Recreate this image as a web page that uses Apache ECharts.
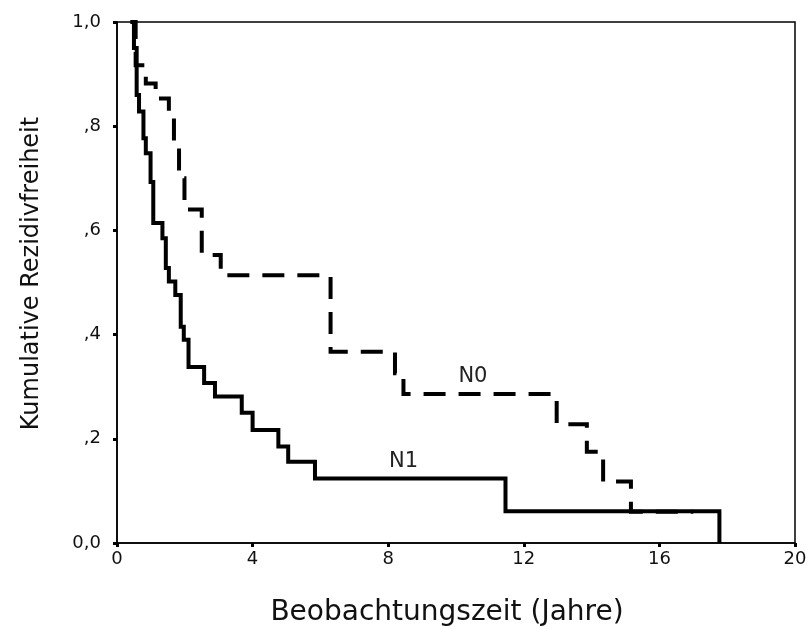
<!DOCTYPE html>
<html>
<head>
<meta charset="utf-8">
<script src="https://cdn.jsdelivr.net/npm/echarts@6/dist/echarts.min.js"></script>
<style>
  html, body { margin: 0; padding: 0; background: #fff; }
  #chart { width: 807px; height: 629px; }
</style>
</head>
<body>
<div id="chart"></div>
<script>
// Kaplan-Meier estimates: time in years and cumulative recurrence-free proportion
const n0Times    = [0.4, 0.55, 0.85, 1.14, 1.53, 1.68, 1.83, 1.99, 2.5, 3.06, 6.3, 8.2, 8.45, 12.97, 13.86, 14.34, 15.16, 17.0];
const n0Survival = [1.0, 0.917, 0.882, 0.853, 0.821, 0.761, 0.70, 0.64, 0.553, 0.514, 0.367, 0.326, 0.286, 0.228, 0.175, 0.118, 0.06, 0.06];

const n1Times    = [0.4, 0.5, 0.58, 0.65, 0.78, 0.85, 0.99, 1.07, 1.34, 1.44, 1.53, 1.72, 1.88, 1.97, 2.11, 2.57, 2.89, 3.68, 4.0, 4.76, 5.05, 5.84, 11.46, 17.77];
const n1Survival = [1.0, 0.95, 0.86, 0.828, 0.777, 0.748, 0.693, 0.614, 0.585, 0.528, 0.502, 0.476, 0.415, 0.39, 0.338, 0.307, 0.281, 0.25, 0.217, 0.185, 0.156, 0.124, 0.061, 0.0];

const groupNames = ['N0', 'N1'];
// where each group's name is written, in data units [years, proportion]
const groupLabelAt = [[10.5, 0.32], [8.45, 0.157]];

const xTicks = [0, 4, 8, 12, 16, 20];
const yTickText = { '0': '0,0', '0.2': ',2', '0.4': ',4', '0.6': ',6', '0.8': ',8', '1': '1,0' };

const pairs = (xs, ys) => xs.map((x, i) => [x, ys[i]]);

const font = 'DejaVu Sans';

function groupSeries(name, data, dashed, labelAt) {
  return {
    name: name,
    type: 'line',
    step: 'end',
    data: data,
    symbol: 'none',
    lineStyle: {
      color: '#000',
      width: 4,
      type: dashed ? [22, 13] : 'solid',
      cap: 'butt',
      join: 'miter'
    },
    markPoint: {
      symbol: 'circle',
      symbolSize: 0,
      silent: true,
      label: {
        show: true,
        position: 'inside',
        formatter: name,
        color: '#222',
        fontFamily: font,
        fontSize: 21
      },
      data: [{ coord: labelAt }]
    },
    z: dashed ? 3 : 2
  };
}

const chart = echarts.init(document.getElementById('chart'), null, { renderer: 'canvas' });
chart.setOption({
  animation: false,
  backgroundColor: '#fff',
  grid: {
    left: 117, right: 12, top: 22, bottom: 86,
    containLabel: false,
    outerBoundsMode: 'none',
    show: true, borderColor: '#000', borderWidth: 1.5
  },
  xAxis: {
    type: 'value',
    min: 0, max: 20, interval: 4,
    name: 'Beobachtungszeit (Jahre)',
    nameLocation: 'middle',
    nameGap: 56,
    nameTextStyle: { color: '#111', fontFamily: font, fontSize: 28, padding: [0, 18, 0, 0] },
    axisLine: { show: true, onZero: false, lineStyle: { color: '#000', width: 1.5 } },
    axisTick: { show: true, length: 4, lineStyle: { color: '#000', width: 3 } },
    axisLabel: {
      margin: 7, color: '#111', fontFamily: font, fontSize: 18,
      formatter: v => xTicks.includes(v) ? String(v) : ''
    },
    splitLine: { show: false }
  },
  yAxis: {
    type: 'value',
    min: 0, max: 1, interval: 0.2,
    name: 'Kumulative Rezidivfreiheit',
    nameLocation: 'middle',
    nameGap: 73,
    nameTextStyle: { color: '#111', fontFamily: font, fontSize: 24, padding: [0, 0, 0, 18] },
    axisLine: { show: true, onZero: false, lineStyle: { color: '#000', width: 1.5 } },
    axisTick: { show: true, length: 4, lineStyle: { color: '#000', width: 3 } },
    axisLabel: {
      margin: 16, color: '#111', fontFamily: font, fontSize: 18,
      formatter: v => yTickText[String(Math.round(v * 10) / 10)] || ''
    },
    splitLine: { show: false }
  },
  series: [
    groupSeries(groupNames[0], pairs(n0Times, n0Survival), true, groupLabelAt[0]),
    groupSeries(groupNames[1], pairs(n1Times, n1Survival), false, groupLabelAt[1])
  ]
});
</script>
</body>
</html>
